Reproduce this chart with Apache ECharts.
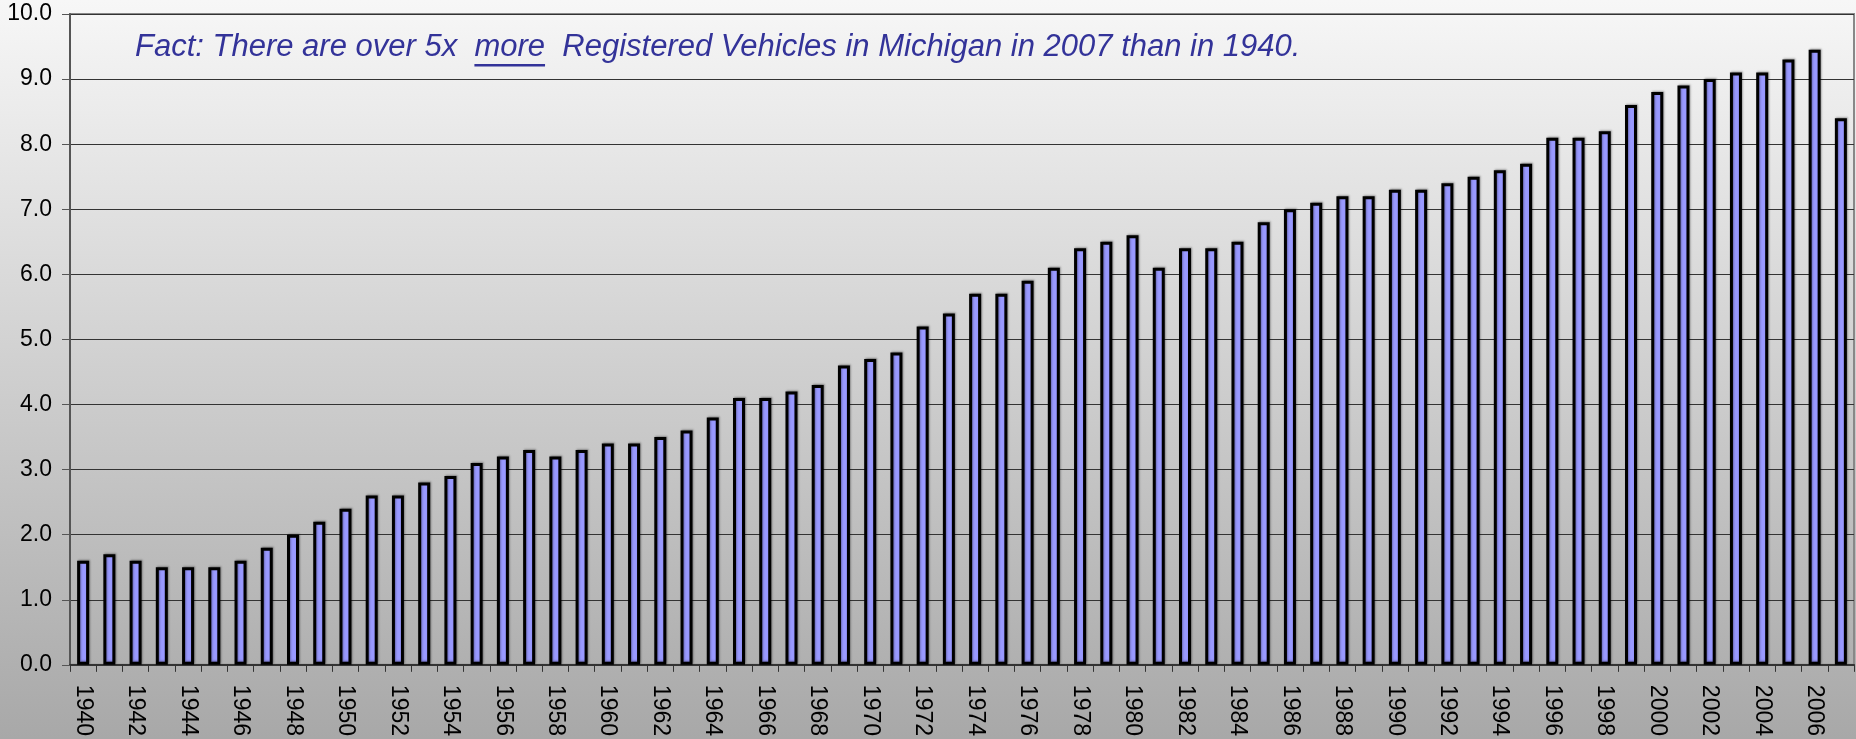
<!DOCTYPE html>
<html>
<head>
<meta charset="utf-8">
<style>
  html, body { margin: 0; padding: 0; }
  #chart { width: 1856px; height: 739px; }
</style>
<script src="https://cdn.jsdelivr.net/npm/echarts@6/dist/echarts.min.js"></script>
</head>
<body>
<div id="chart"></div>
<script>
// Registered vehicles in Michigan (millions), 1940 - 2007
const years = [];
for (let y = 1940; y <= 2007; y++) years.push(String(y));

const vehicles = [
  1.6, 1.7, 1.6, 1.5, 1.5, 1.5, 1.6, 1.8, 2.0, 2.2,
  2.4, 2.6, 2.6, 2.8, 2.9, 3.1, 3.2, 3.3, 3.2, 3.3,
  3.4, 3.4, 3.5, 3.6, 3.8, 4.1, 4.1, 4.2, 4.3, 4.6,
  4.7, 4.8, 5.2, 5.4, 5.7, 5.7, 5.9, 6.1, 6.4, 6.5,
  6.6, 6.1, 6.4, 6.4, 6.5, 6.8, 7.0, 7.1, 7.2, 7.2,
  7.3, 7.3, 7.4, 7.5, 7.6, 7.7, 8.1, 8.1, 8.2, 8.6,
  8.8, 8.9, 9.0, 9.1, 9.1, 9.3, 9.45, 8.4
];

const noteBefore = 'Fact: There are over 5x  ';
const noteWord = 'more';
const noteAfter = '  Registered Vehicles in Michigan in 2007 than in 1940.';

const FONT = '"Liberation Sans", Arial, Helvetica, sans-serif';
const noteFont = 'italic 31px ' + FONT;

// measure where the underlined word sits
const ctx = document.createElement('canvas').getContext('2d');
ctx.font = noteFont;
const wBefore = ctx.measureText(noteBefore).width;
const wWord = ctx.measureText(noteWord).width;

const noteX = 135, noteY = 61;

const chart = echarts.init(document.getElementById('chart'));
chart.setOption({
  backgroundColor: {
    type: 'linear', x: 0, y: 0, x2: 0, y2: 1,
    colorStops: [{ offset: 0, color: '#f7f7f7' }, { offset: 1, color: '#a8a8a8' }]
  },
  animation: false,
  grid: { left: 70, right: 2, top: 14, bottom: 74, show: true, borderColor: '#888', borderWidth: 2, backgroundColor: 'transparent' },
  xAxis: {
    type: 'category',
    data: years,
    boundaryGap: true,
    axisLine: { lineStyle: { color: '#333', width: 2 } },
    axisTick: { show: true, length: 7, interval: 0, lineStyle: { color: '#333', width: 1 } },
    axisLabel: { interval: 1, rotate: -90, margin: 20, color: '#000', fontSize: 23, fontFamily: FONT }
  },
  yAxis: {
    type: 'value',
    min: 0, max: 10, interval: 1,
    axisLine: { show: true, lineStyle: { color: '#555', width: 2 } },
    axisTick: { show: true, length: 8, lineStyle: { color: '#555', width: 1 } },
    axisLabel: { margin: 18, color: '#000', fontSize: 23, fontFamily: FONT, formatter: v => v.toFixed(1) },
    splitLine: { lineStyle: { color: '#333', width: 1 } }
  },
  series: [{
    type: 'bar',
    data: vehicles,
    barWidth: 12,
    itemStyle: {
      color: '#9999ff', borderColor: '#000', borderWidth: 3,
      shadowColor: 'rgba(0,0,0,0.3)', shadowBlur: 2, shadowOffsetX: 1, shadowOffsetY: -1
    }
  }],
  graphic: [
    {
      type: 'text', left: noteX, top: noteY - 29, z: 10,
      style: { text: noteBefore + noteWord + noteAfter, fill: '#333399', font: noteFont }
    },
    {
      type: 'rect', z: 10,
      shape: { x: noteX + wBefore, y: noteY + 3, width: wWord, height: 2.5 },
      style: { fill: '#333399' }
    }
  ]
});
</script>
</body>
</html>
